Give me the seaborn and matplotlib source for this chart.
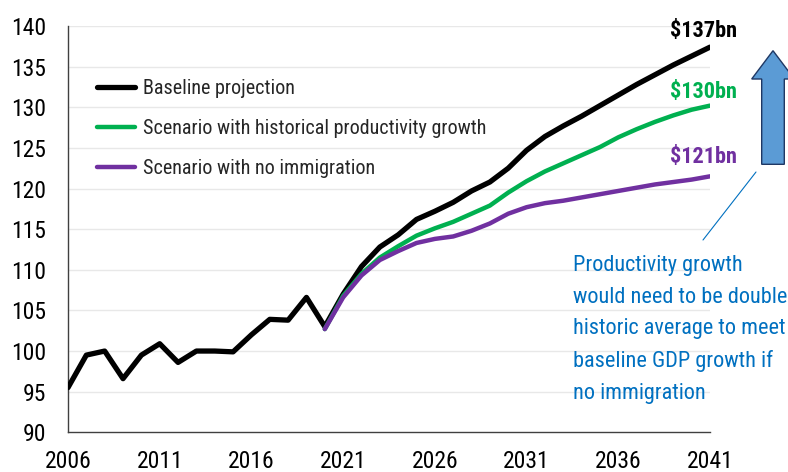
import matplotlib
matplotlib.use("Agg")
import matplotlib.pyplot as plt
import matplotlib.patches as mpatches
from matplotlib.lines import Line2D
import seaborn as sns
import pandas as pd

# ---- data ----
years_hist = list(range(2006, 2042))
baseline = [95.5, 99.5, 100.0, 96.6, 99.5, 100.9, 98.6, 100.0, 100.0, 99.9,
            102.0, 103.9, 103.8, 106.6, 103.0, 107.0, 110.4, 112.8, 114.3, 116.2,
            117.2, 118.3, 119.7, 120.8, 122.5, 124.7, 126.4, 127.7, 128.9, 130.2,
            131.5, 132.8, 134.0, 135.2, 136.3, 137.4]
years_scen = list(range(2020, 2042))
hist_prod = [102.7, 106.8, 109.5, 111.5, 112.9, 114.2, 115.1, 115.9, 116.9, 117.9,
             119.5, 120.9, 122.1, 123.1, 124.1, 125.1, 126.3, 127.3, 128.2, 129.0,
             129.7, 130.2]
no_immig = [102.7, 106.6, 109.3, 111.2, 112.3, 113.3, 113.8, 114.1, 114.8, 115.7,
            116.9, 117.7, 118.2, 118.5, 118.9, 119.3, 119.7, 120.1, 120.5, 120.8,
            121.1, 121.5]
series_names = ["Baseline projection",
                "Scenario with historical productivity growth",
                "Scenario with no immigration"]
end_labels = ["$137bn", "$130bn", "$121bn"]
x_ticks = [2006, 2011, 2016, 2021, 2026, 2031, 2036, 2041]
y_ticks = list(range(90, 141, 5))
note = ("Productivity growth\nwould need to be double\nhistoric average to meet\n"
        "baseline GDP growth if\nno immigration")

colors = ["#000000", "#00B050", "#7030A0"]

sns.set_style("white")
plt.rcParams["font.family"] = ["Roboto Condensed", "Liberation Sans", "DejaVu Sans"]

W, H = 788, 472
fig = plt.figure(figsize=(W / 100, H / 100), dpi=100)
ax = fig.add_axes([68 / W, 1 - 432.3 / H, (710 - 68) / W, (432.3 - 26) / H])

df_b = pd.DataFrame({"year": years_hist, "value": baseline})
df_g = pd.DataFrame({"year": years_scen, "value": hist_prod})
df_p = pd.DataFrame({"year": years_scen, "value": no_immig})

sns.lineplot(data=df_b, x="year", y="value", color=colors[0], linewidth=3.8,
             label=series_names[0], ax=ax, zorder=3)
sns.lineplot(data=df_g, x="year", y="value", color=colors[1], linewidth=3.2,
             label=series_names[1], ax=ax, zorder=4)
sns.lineplot(data=df_p, x="year", y="value", color=colors[2], linewidth=3.2,
             label=series_names[2], ax=ax, zorder=5)

ax.set_xlim(2006, 2041)
ax.set_ylim(90, 140)
ax.set_xticks(x_ticks)
ax.set_yticks(y_ticks)
ax.set_xlabel("")
ax.set_ylabel("")
ax.tick_params(axis="both", length=0, labelsize=17, colors="#000000")
ax.tick_params(axis="y", pad=16)
ax.tick_params(axis="x", pad=13)
for y in y_ticks[1:]:
    ax.axhline(y, color="#E8E8E8", linewidth=1.0, zorder=1)
for s in ["top", "right"]:
    ax.spines[s].set_visible(False)
for s in ["left", "bottom"]:
    ax.spines[s].set_color("#404040")
    ax.spines[s].set_linewidth(1.0)

handles = [Line2D([], [], color=colors[0], linewidth=3.8),
           Line2D([], [], color=colors[1], linewidth=3.2),
           Line2D([], [], color=colors[2], linewidth=3.2)]
ax.legend(handles, series_names, loc="upper left", frameon=False,
          bbox_to_anchor=(97 / W, 1 - 79 / H), bbox_transform=fig.transFigure,
          fontsize=14.5, handlelength=1.9, handletextpad=0.4, labelspacing=1.05,
          borderpad=0, borderaxespad=0)

label_y = [31, 92, 157]
for txt, c, yy in zip(end_labels, colors, label_y):
    fig.text(737 / W, 1 - yy / H, txt, color=c, fontsize=16, fontweight="bold",
             ha="right", va="center")

fig.text(573 / W, 1 - 255 / H, note, color="#0070C0", fontsize=16,
         ha="left", va="top", linespacing=1.66)

# block arrow
pts = [(761.7, 164.3), (761.7, 79), (751.7, 79), (773, 50.7), (794.3, 79),
       (784.3, 79), (784.3, 164.3)]
poly = mpatches.Polygon([(x / W, 1 - y / H) for x, y in pts], closed=True,
                        facecolor="#5B9BD5", edgecolor="#1F3864", linewidth=1.0,
                        transform=fig.transFigure)
fig.add_artist(poly)
fig.add_artist(Line2D([756 / W, 703 / W], [1 - 172 / H, 1 - 240 / H],
                      color="#0070C0", linewidth=0.8, transform=fig.transFigure))

fig.savefig("out.png", dpi=100)
